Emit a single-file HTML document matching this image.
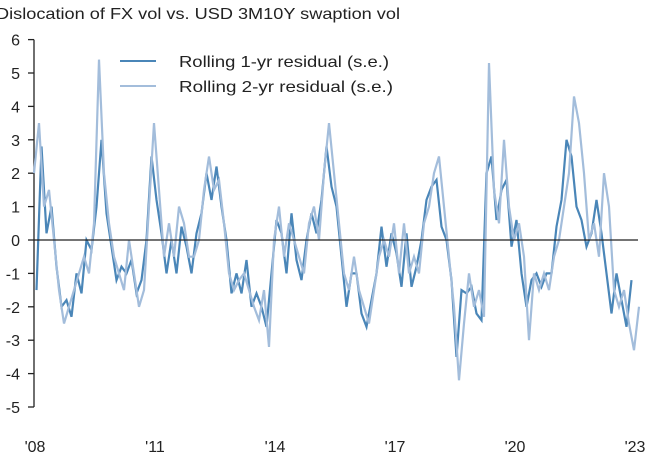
<!DOCTYPE html>
<html><head><meta charset="utf-8"><style>
body{margin:0;background:#fff;}
svg text{font-family:"Liberation Sans",sans-serif;fill:#222;}
</style></head><body>
<svg id="c" width="657" height="464" viewBox="0 0 657 464">
<text x="-4" y="19" font-size="16" textLength="404" lengthAdjust="spacingAndGlyphs">Dislocation of FX vol vs. USD 3M10Y swaption vol</text>
<g id="yaxis"></g>
<g id="xaxis"></g>
<g id="series"></g>
<g>
<line x1="120" y1="61" x2="156" y2="61" stroke="#4a86b8" stroke-width="2"/>
<text x="179" y="67" font-size="16" textLength="210" lengthAdjust="spacingAndGlyphs">Rolling 1-yr residual (s.e.)</text>
<line x1="120" y1="86" x2="156" y2="86" stroke="#a3bddb" stroke-width="2"/>
<text x="179" y="92" font-size="16" textLength="214" lengthAdjust="spacingAndGlyphs">Rolling 2-yr residual (s.e.)</text>
</g>
</svg>
<script>
const yTicks=[6,5,4,3,2,1,0,-1,-2,-3,-4,-5];
const xTickYears=[2008,2011,2014,2017,2020,2023];
const xTickLabels=["'08","'11","'14","'17","'20","'23"];
const series2=[2,3.5,1,1.5,0,-1.5,-2.5,-2,-1.5,-1,-0.5,-1,0.5,5.4,2,0.5,-0.5,-1,-1.5,0,-1,-2,-1.5,1,3.5,1.5,-0.5,0.5,-0.5,1,0.5,-0.5,-0.5,0,1.5,2.5,1.5,1.8,0.5,-1,-1.5,-1.2,-1,-1.5,-2,-2.4,-1.5,-3.2,0,1,-0.5,0.5,0,-0.5,-1,0.5,1,0,2,3.5,2,0.5,-1,-1.5,-0.5,-1.5,-2,-2.5,-1.5,-0.5,0,-0.5,0.5,-1,0.5,-1,-0.5,-1,0.5,1,2,2.5,1,-0.5,-2,-4.2,-2.5,-1,-2,-1.5,-2.3,5.3,1.5,0.5,3,1,0,0.5,-0.5,-3,-1,-1.5,-1,-1.5,-0.5,0,1,2,4.3,3.5,2,0,0.5,-0.5,2,1,-1.5,-2,-1.5,-2.5,-3.3,-2];
const series1=[-1.5,2.8,0.2,1,-0.8,-2,-1.8,-2.3,-1,-1.6,0,-0.3,1,3,0.8,-0.2,-1.2,-0.8,-1,-0.6,-1.6,-1.2,0,2.5,1.2,0.2,-1,0,-1,0.4,-0.2,-1,0.2,0.8,2,1.2,2.2,1,0,-1.6,-1,-1.6,-0.6,-2,-1.6,-2,-2.6,-1,0.6,0.2,-1,0.8,-0.6,-1.2,0,0.8,0.2,1.2,2.8,1.6,1,-0.5,-2,-1,-1,-2.2,-2.6,-1.8,-1,0.4,-0.8,0.2,-0.4,-1.4,0.2,-1.4,-0.8,0,1.2,1.6,1.8,0.4,0,-1.2,-3.5,-1.5,-1.6,-1.4,-2.2,-2.4,2,2.5,0.6,1.5,1.8,-0.2,0.6,-1,-2,-1.2,-1,-1.4,-1,-1,0.4,1.2,3,2.5,1,0.6,-0.2,0.2,1.2,0.2,-1,-2.2,-1,-1.8,-2.6,-1.2];
const svg=document.getElementById('c');
const NS='http://www.w3.org/2000/svg';
const X0=34,PXY=40,Y0=240,PXU=33.4;
function xs(t){return X0+(t-2008)*PXY;}
function ys(v){return Y0-v*PXU;}
function mk(tag,attrs,parent){const e=document.createElementNS(NS,tag);for(const k in attrs)e.setAttribute(k,attrs[k]);parent.appendChild(e);return e;}
const ya=document.getElementById('yaxis');
let l=mk('line',{x1:X0,y1:ys(6),x2:X0,y2:ys(-5),stroke:'#222','stroke-width':1.3},ya);


yTicks.forEach(v=>{
 const t=mk('line',{x1:X0-6,y1:ys(v),x2:X0,y2:ys(v),stroke:'#222','stroke-width':1.3},ya);
 
 
 const tx=mk('text',{x:20,y:ys(v)+6,'font-size':16,'text-anchor':'end'},ya);
 tx.textContent=String(v);
 
 
});
const xa=document.getElementById('xaxis');
xTickYears.forEach((yr,i)=>{
 const tx=mk('text',{x:xs(yr)+1,y:452,'font-size':16,'text-anchor':'middle'},xa);
 tx.textContent=xTickLabels[i];
 
 
});
const sg=document.getElementById('series');
function path(arr,off){return arr.map((v,i)=>(i?'L':'M')+xs(2008+off+i*0.125).toFixed(1)+','+ys(v).toFixed(1)).join('');}
const p1=mk('path',{d:path(series1,0.0625),fill:'none',stroke:'#4a86b8','stroke-width':2.2},sg);


const p2=mk('path',{d:path(series2,0),fill:'none',stroke:'#a3bddb','stroke-width':2.2},sg);


const z=mk('line',{x1:X0,y1:Y0,x2:638,y2:Y0,stroke:'#222','stroke-width':1.3},sg);


</script>
</body></html>
